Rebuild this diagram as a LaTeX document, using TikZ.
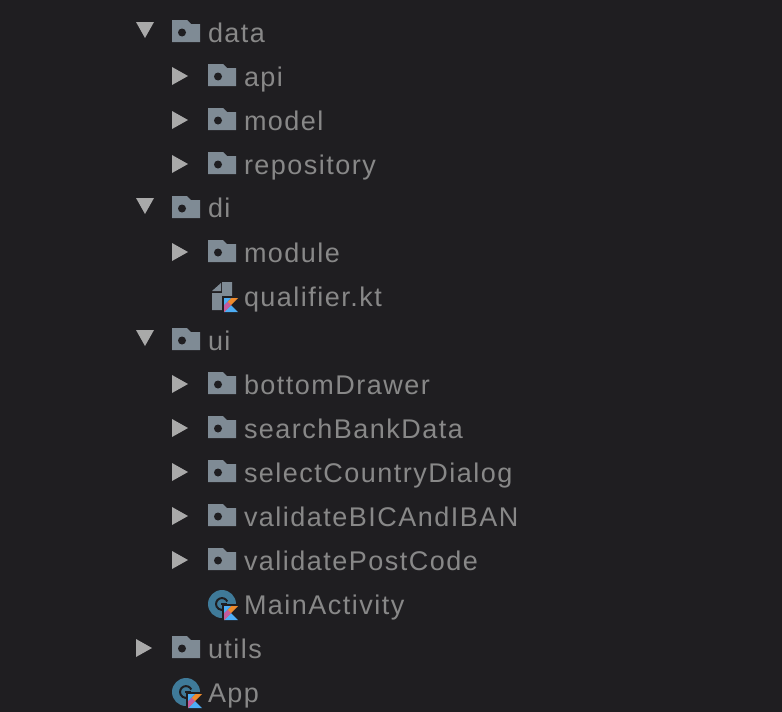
\documentclass[tikz,border=0pt]{standalone}
\usepackage{fontspec}
\setmainfont{Liberation Sans}
\definecolor{bgc}{HTML}{1F1E21}
\definecolor{txtc}{HTML}{888888}
\definecolor{foldc}{HTML}{7F8B95}
\definecolor{arrc}{HTML}{A9A9A9}
\definecolor{classc}{HTML}{3F7A99}
\definecolor{korange}{HTML}{EE8A2C}
\definecolor{kpink}{HTML}{C45B9E}
\definecolor{kblue}{HTML}{4DADF5}
\tikzset{
  x=1pt,y=-1pt,
  label text/.style={anchor=base west,inner sep=0pt,outer sep=0pt,text=txtc,font=\fontsize{27}{28}\selectfont\addfontfeatures{LetterSpace=5.5}},
  pics/folder/.style={code={
    \fill[foldc] (0,0) -- (15,0) -- (19,4) -- (28,4) -- (28,22) -- (0,22) -- cycle;
    \fill[bgc] (10,12.5) circle (4);
  }},
  pics/kbadge/.style={code={
    \fill[bgc] (-2,-2) rectangle (14,14);
    \fill[kblue] (0,14) -- (7,7) -- (14,14) -- cycle;
    \fill[korange] (0,14) -- (0,7) -- (7,0) -- (14,0) -- cycle;
    \fill[kpink] (0,14) -- (0,7) -- (3.5,3.5) -- (7,7) -- cycle;
    \fill[kblue] (0,0) -- (7,0) -- (0,7) -- cycle;
  }},
  pics/classicon/.style={code={
    \fill[classc] (0,0) circle (14);
    \draw[bgc,line width=2] (5.3,-2.5) arc (-25:-300:5.9);
    \fill[bgc] (-1,-1) rectangle (5,1);
  }},
  pics/downarrow/.style={code={\fill[arrc] (0,0) -- (18,0) -- (9,16) -- cycle;}},
  pics/rightarrow/.style={code={\fill[arrc] (0,0) -- (16,9) -- (0,18) -- cycle;}},
}
\begin{document}
\begin{tikzpicture}
\useasboundingbox (0,0) rectangle (782,712);
\fill[bgc] (0,0) rectangle (782,712);
\pic at (136,22) {downarrow}; \pic at (172,20) {folder};
\node[label text] (data) at (208,42) {data};
\pic at (172,67) {rightarrow}; \pic at (208,64) {folder};
\node[label text] (api) at (244,86) {api};
\pic at (172,111) {rightarrow}; \pic at (208,108) {folder};
\node[label text] (model) at (244,130) {model};
\pic at (172,155) {rightarrow}; \pic at (208,152) {folder};
\node[label text] (repository) at (244,174) {repository};
\pic at (136,198) {downarrow}; \pic at (172,196) {folder};
\node[label text] (di) at (208,217) {di};
\pic at (172,243) {rightarrow}; \pic at (208,240) {folder};
\node[label text] (module) at (244,262) {module};
\fill[foldc] (212,291) -- (221,283) -- (221,291) -- cycle;
\fill[foldc] (222,282) -- (232,282) -- (232,310) -- (212,310) -- (212,293) -- (222,293) -- cycle;
\pic at (224,298) {kbadge};
\node[label text] (qualifier) at (244,306) {qualifier.kt};
\pic at (136,330) {downarrow}; \pic at (172,328) {folder};
\node[label text] (ui) at (208,350) {ui};
\pic at (172,375) {rightarrow}; \pic at (208,372) {folder};
\node[label text] (bottomDrawer) at (244,394) {bottomDrawer};
\pic at (172,419) {rightarrow}; \pic at (208,416) {folder};
\node[label text] (searchBankData) at (244,438) {searchBankData};
\pic at (172,463) {rightarrow}; \pic at (208,460) {folder};
\node[label text] (selectCountryDialog) at (244,482) {selectCountryDialog};
\pic at (172,507) {rightarrow}; \pic at (208,504) {folder};
\node[label text] (validateBICAndIBAN) at (244,526) {validateBICAndIBAN};
\pic at (172,551) {rightarrow}; \pic at (208,548) {folder};
\node[label text] (validatePostCode) at (244,570) {validatePostCode};
\pic at (222,604) {classicon}; \pic at (224,606) {kbadge};
\node[label text] (MainActivity) at (244,614) {MainActivity};
\pic at (136,639) {rightarrow}; \pic at (172,636) {folder};
\node[label text] (utils) at (208,658) {utils};
\pic at (186,692) {classicon}; \pic at (188,694) {kbadge};
\node[label text] (App) at (208,702) {App};
\end{tikzpicture}
\end{document}
